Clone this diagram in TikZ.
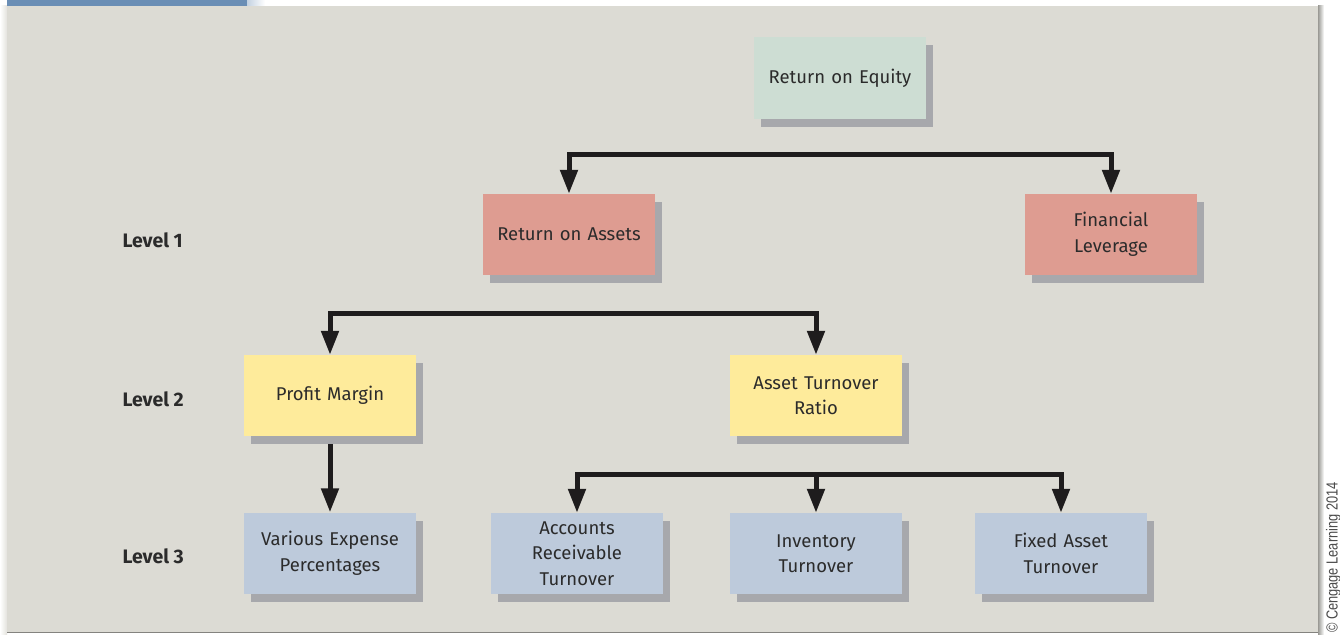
\documentclass[tikz,border=0pt]{standalone}
\usepackage{fontspec}
\setmainfont{Fira Sans}
\newfontfamily\notefont{Liberation Sans}
\usetikzlibrary{arrows.meta,shadows,backgrounds}
\definecolor{panel}{HTML}{DCDBD4}
\definecolor{bar}{HTML}{6A8EB5}
\definecolor{shade}{HTML}{A7A8AC}
\definecolor{ink}{HTML}{2B2B2B}
\definecolor{topbox}{HTML}{CDDDD3}
\definecolor{lvlone}{HTML}{DE9C91}
\definecolor{lvltwo}{HTML}{FEEB9B}
\definecolor{lvlthree}{HTML}{BDCADB}
\definecolor{link}{HTML}{1E1C1D}
\tikzset{
  ratio/.style={minimum width=172pt, minimum height=81pt, inner sep=0pt,
    text width=160pt, align=center, text=ink, font=\fontsize{18.5}{25.5}\selectfont,
    drop shadow={shadow xshift=7pt, shadow yshift=-8pt, fill=shade, opacity=1}},
  levellabel/.style={font=\fontsize{19.5}{22}\selectfont\bfseries, text=ink, anchor=west},
  link/.style={draw=link, line width=5pt},
  linkarrow/.style={link, -{Triangle[width=17pt,length=24pt]}},
}
\begin{document}
\begin{tikzpicture}[x=1pt,y=-1pt]
\useasboundingbox (0,0) rectangle (1340,634);
% page edges and panel
\fill[white] (0,0) rectangle (1340,634);
\shade[left color=white, right color=panel!80] (0,6) rectangle (7,634);
\fill[panel] (7,6) rectangle (1318,632);
\shade[left color=panel!70!black, right color=white] (1318,6) rectangle (1324,634);
\draw[panel!60!black, line width=1pt] (7,632) -- (1318,632);
\fill[bar] (7,0) rectangle (247,6);
\shade[left color=bar!40!white, right color=white] (247,0) rectangle (265,6);

% ratio boxes
\node[ratio, fill=topbox]   (roe) at (840,78)   {Return on Equity};
\node[ratio, fill=lvlone]   (roa) at (569,234.5) {Return on Assets};
\node[ratio, fill=lvlone]   (fl)  at (1111,234.5) {Financial\\Leverage};
\node[ratio, fill=lvltwo]   (pm)  at (330,395.5) {Profit Margin};
\node[ratio, fill=lvltwo]   (atr) at (816,395.5) {Asset Turnover\\Ratio};
\node[ratio, fill=lvlthree] (vep) at (330,553)  {Various Expense\\Percentages};
\node[ratio, fill=lvlthree] (ar)  at (577,553.5) {Accounts\\Receivable\\Turnover};
\node[ratio, fill=lvlthree] (inv) at (816,553.5) {Inventory\\Turnover};
\node[ratio, fill=lvlthree] (fat) at (1061,553.5) {Fixed Asset\\Turnover};

% level captions
\node[levellabel] (l1) at (119,240) {Level 1};
\node[levellabel] (l2) at (119,399) {Level 2};
\node[levellabel] (l3) at (119,556) {Level 3};

% junction points of the tree
\coordinate (j1) at (roe.south |- 0,154);
\coordinate (j2) at (roa.south |- 0,313);
\coordinate (j3) at (atr.south |- 0,474);

\begin{scope}[on background layer]
  \draw[link] (roe.south) -- (j1);
  \draw[link] (roa.south) -- (j2);
  \draw[link] (atr.south) -- (j3);
  \draw[link] (pm.south) -- (pm.south |- 0,446);
\end{scope}
\draw[linkarrow] (j1) -| (roa.north);
\draw[linkarrow] (j1) -| (fl.north);
\draw[linkarrow] (j2) -| (pm.north);
\draw[linkarrow] (j2) -| (atr.north);
\draw[linkarrow] (pm.south |- 0,444) -- (vep.north);
\draw[linkarrow] (j3) -| (ar.north);
\draw[linkarrow] (j3) -- (inv.north);
\draw[linkarrow] (j3) -| (fat.north);

% credit line
\node[rotate=90, anchor=west, inner sep=0pt, text=ink!85]
  (credit) at (1333.5,633) {\notefont\fontsize{16}{18}\selectfont\scalebox{0.8}[1]{\copyright\ Cengage Learning 2014}};
\end{tikzpicture}
\end{document}
